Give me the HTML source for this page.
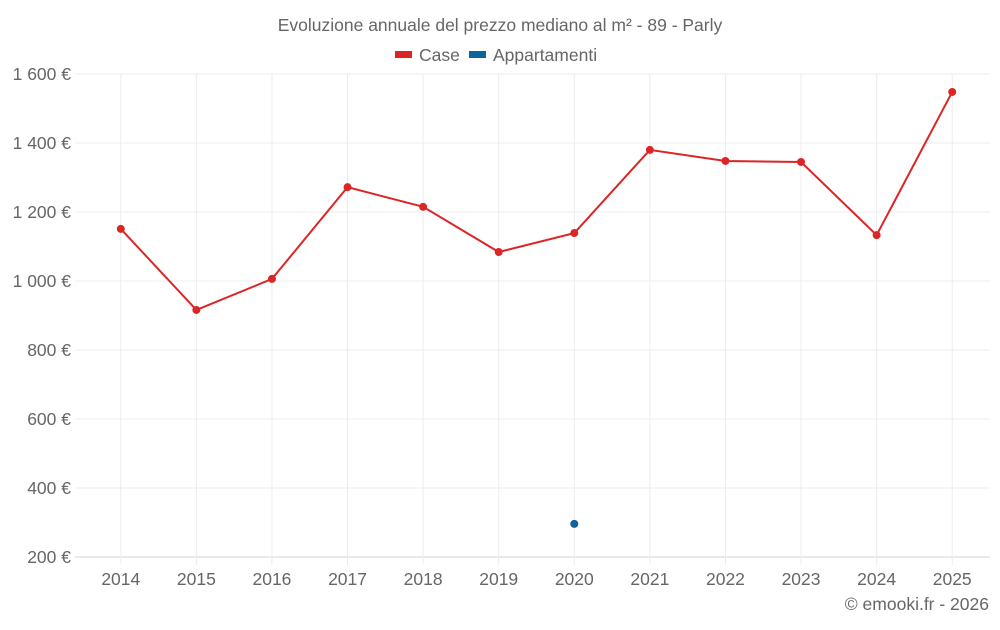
<!DOCTYPE html>
<html><head><meta charset="utf-8"><style>
body{margin:0;background:#fff;font-family:"Liberation Sans",sans-serif;}
svg text{font-family:"Liberation Sans",sans-serif;fill:#666;}
</style></head><body>
<svg width="1000" height="625">
<text x="500" y="31" text-anchor="middle" font-size="17.5">Evoluzione annuale del prezzo mediano al m² - 89 - Parly</text>
<g>
<rect x="395" y="51" width="17" height="7" fill="#dc2626"/>
<text x="419" y="61" font-size="17.5">Case</text>
<rect x="469" y="51" width="17" height="7" fill="#0e639c"/>
<text x="493" y="61" font-size="17.5">Appartamenti</text>
</g>
<g id="grid"></g>
<g id="marks"></g>
<text x="989" y="610" text-anchor="end" font-size="17.5">© emooki.fr - 2026</text>
</svg>
<script>
const years=[2014,2015,2016,2017,2018,2019,2020,2021,2022,2023,2024,2025];
const caseValues=[1151,916,1006,1272,1215,1084,1139,1380,1348,1345,1133,1548];
const appYears=[2020];
const appValues=[296];
const yTicks=[200,400,600,800,1000,1200,1400,1600];
const yTickLabels=["200 €","400 €","600 €","800 €","1 000 €","1 200 €","1 400 €","1 600 €"];
const L=83,R=990,T=74,B=557,ymin=200,ymax=1600;
const band=(R-L)/years.length;
const xs=y=>L+band*(years.indexOf(y)+0.5);
const ys=v=>B-(v-ymin)/(ymax-ymin)*(B-T);
const NS="http://www.w3.org/2000/svg";
const g=document.getElementById('grid'),m=document.getElementById('marks');
function mk(tag,attrs,parent){const e=document.createElementNS(NS,tag);for(const k in attrs)e.setAttribute(k,attrs[k]);parent.appendChild(e);return e;}
yTicks.forEach((t,i)=>{
 const l=mk('line',{x1:75,x2:R,y1:ys(t),y2:ys(t),stroke:i==0?'#d6d6d6':'#ececec'},g);
 
 
 const tx=mk('text',{x:71,y:ys(t)+6,'text-anchor':'end','font-size':17.5},g);
 tx.textContent=yTickLabels[i];
 
 
});
years.forEach(y=>{
 const l=mk('line',{x1:xs(y),x2:xs(y),y1:T,y2:B+8,stroke:'#ececec'},g);
 
 
 const tx=mk('text',{x:xs(y),y:585,'text-anchor':'middle','font-size':17.5},g);
 tx.textContent=y;
 
 
});
const pl=mk('polyline',{points:years.map((y,i)=>xs(y)+','+ys(caseValues[i])).join(' '),fill:'none',stroke:'#dc2626','stroke-width':2},m);


years.forEach((y,i)=>{
 const c=mk('circle',{cx:xs(y),cy:ys(caseValues[i]),r:4,fill:'#dc2626'},m);
 
 
});
appYears.forEach((y,i)=>{
 const c=mk('circle',{cx:xs(y),cy:ys(appValues[i]),r:4,fill:'#0e639c'},m);
 
 
});
</script>
</body></html>
